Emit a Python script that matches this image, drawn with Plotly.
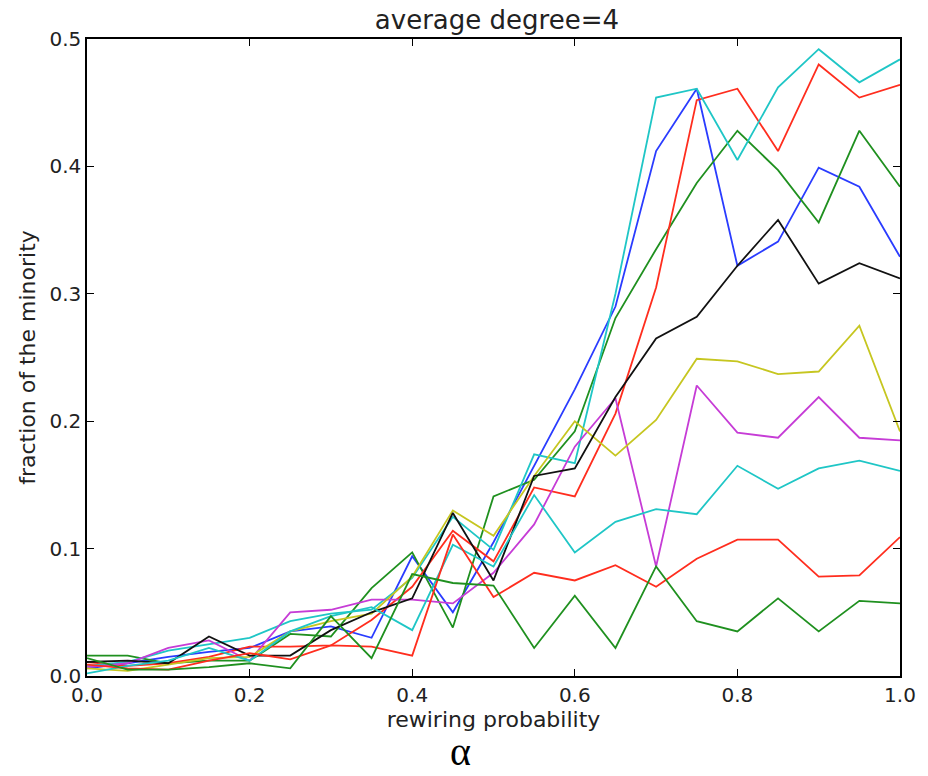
import plotly.graph_objects as go

# rewiring probability (x) and fraction of the minority for each run
rewiring = [round(0.05 * i, 2) for i in range(21)]

blue_run = [0.006, 0.010, 0.015, 0.019, 0.022, 0.035, 0.039, 0.030, 0.094, 0.050, 0.105,
            0.165, 0.225, 0.290, 0.412, 0.461, 0.322, 0.341, 0.399, 0.384, 0.329]
green_high = [0.016, 0.016, 0.010, 0.012, 0.012, 0.033, 0.031, 0.069, 0.097, 0.038, 0.141,
              0.154, 0.192, 0.281, 0.335, 0.387, 0.428, 0.397, 0.356, 0.428, 0.384]
red_high = [0.011, 0.008, 0.010, 0.015, 0.023, 0.023, 0.024, 0.044, 0.070, 0.114, 0.090,
            0.148, 0.141, 0.206, 0.305, 0.452, 0.461, 0.412, 0.480, 0.454, 0.464]
cyan_high = [0.008, 0.011, 0.020, 0.025, 0.030, 0.043, 0.049, 0.052, 0.077, 0.125, 0.099,
             0.174, 0.167, 0.300, 0.454, 0.461, 0.405, 0.462, 0.492, 0.466, 0.484]
magenta_run = [0.007, 0.010, 0.022, 0.028, 0.012, 0.050, 0.052, 0.060, 0.060, 0.057, 0.081,
               0.119, 0.180, 0.218, 0.086, 0.228, 0.191, 0.187, 0.219, 0.187, 0.185]
yellow_run = [0.006, 0.004, 0.009, 0.014, 0.015, 0.035, 0.043, 0.049, 0.078, 0.130, 0.110,
              0.157, 0.200, 0.173, 0.201, 0.249, 0.247, 0.237, 0.239, 0.275, 0.192]
black_run = [0.011, 0.012, 0.010, 0.031, 0.016, 0.016, 0.036, 0.050, 0.061, 0.128, 0.075,
             0.157, 0.163, 0.219, 0.265, 0.282, 0.322, 0.358, 0.308, 0.324, 0.312]
cyan_low = [0.002, 0.008, 0.012, 0.022, 0.012, 0.035, 0.047, 0.054, 0.036, 0.103, 0.086,
            0.142, 0.097, 0.121, 0.131, 0.127, 0.165, 0.147, 0.163, 0.169, 0.161]
red_low = [0.009, 0.006, 0.005, 0.012, 0.018, 0.013, 0.024, 0.023, 0.016, 0.111, 0.062,
           0.081, 0.075, 0.087, 0.070, 0.092, 0.107, 0.107, 0.078, 0.079, 0.109]
green_low = [0.014, 0.005, 0.005, 0.007, 0.010, 0.006, 0.047, 0.014, 0.080, 0.073, 0.071,
             0.022, 0.063, 0.022, 0.086, 0.043, 0.035, 0.061, 0.035, 0.059, 0.057]

runs = [
    (blue_run, "#2a3cff"),
    (green_high, "#1f901f"),
    (red_high, "#ff2d1e"),
    (cyan_high, "#1fc6c6"),
    (magenta_run, "#c63cd6"),
    (yellow_run, "#c6c620"),
    (black_run, "#111111"),
    (cyan_low, "#1fc6c6"),
    (red_low, "#ff2d1e"),
    (green_low, "#1f901f"),
]

x_ticks = [0.0, 0.2, 0.4, 0.6, 0.8, 1.0]
y_ticks = [0.0, 0.1, 0.2, 0.3, 0.4, 0.5]

fig = go.Figure()
for values, color in runs:
    fig.add_trace(go.Scatter(x=rewiring, y=values, mode="lines",
                             line=dict(color=color, width=1.8),
                             showlegend=False, hoverinfo="skip"))

font_family = "DejaVu Sans"
axis_common = dict(
    showline=True, linecolor="black", linewidth=1.5, mirror="ticks",
    ticks="inside", ticklen=7, tickwidth=1, tickcolor="black",
    showgrid=False, zeroline=False,
    tickfont=dict(family=font_family, size=20, color="#222"),
)

fig.update_layout(
    width=928, height=776,
    margin=dict(l=87, r=21, t=39, b=100),
    paper_bgcolor="white", plot_bgcolor="white",
    title=dict(text="average degree=4", x=0.5355, xanchor="center",
               yref="container", y=1 - 20 / 776, yanchor="middle",
               font=dict(family=font_family, size=26, color="#222")),
    xaxis=dict(range=[0, 1], tickvals=x_ticks,
               ticktext=[f"{v:.1f}" for v in x_ticks],
               title=dict(text="rewiring probability", standoff=6,
                          font=dict(family=font_family, size=22, color="#222")),
               **axis_common),
    yaxis=dict(range=[0, 0.5], tickvals=y_ticks,
               ticktext=[f"{v:.1f}" for v in y_ticks],
               title=dict(text="fraction of the minority", standoff=8,
                          font=dict(family=font_family, size=22, color="#222")),
               **axis_common),
    annotations=[dict(text="α", xref="paper", yref="paper",
                      x=(464 - 87) / 820, y=-(752 - 676) / 637,
                      xanchor="center", yanchor="middle", showarrow=False,
                      font=dict(family="Liberation Serif", size=40, color="black"))],
)

fig.write_html("out.html")
